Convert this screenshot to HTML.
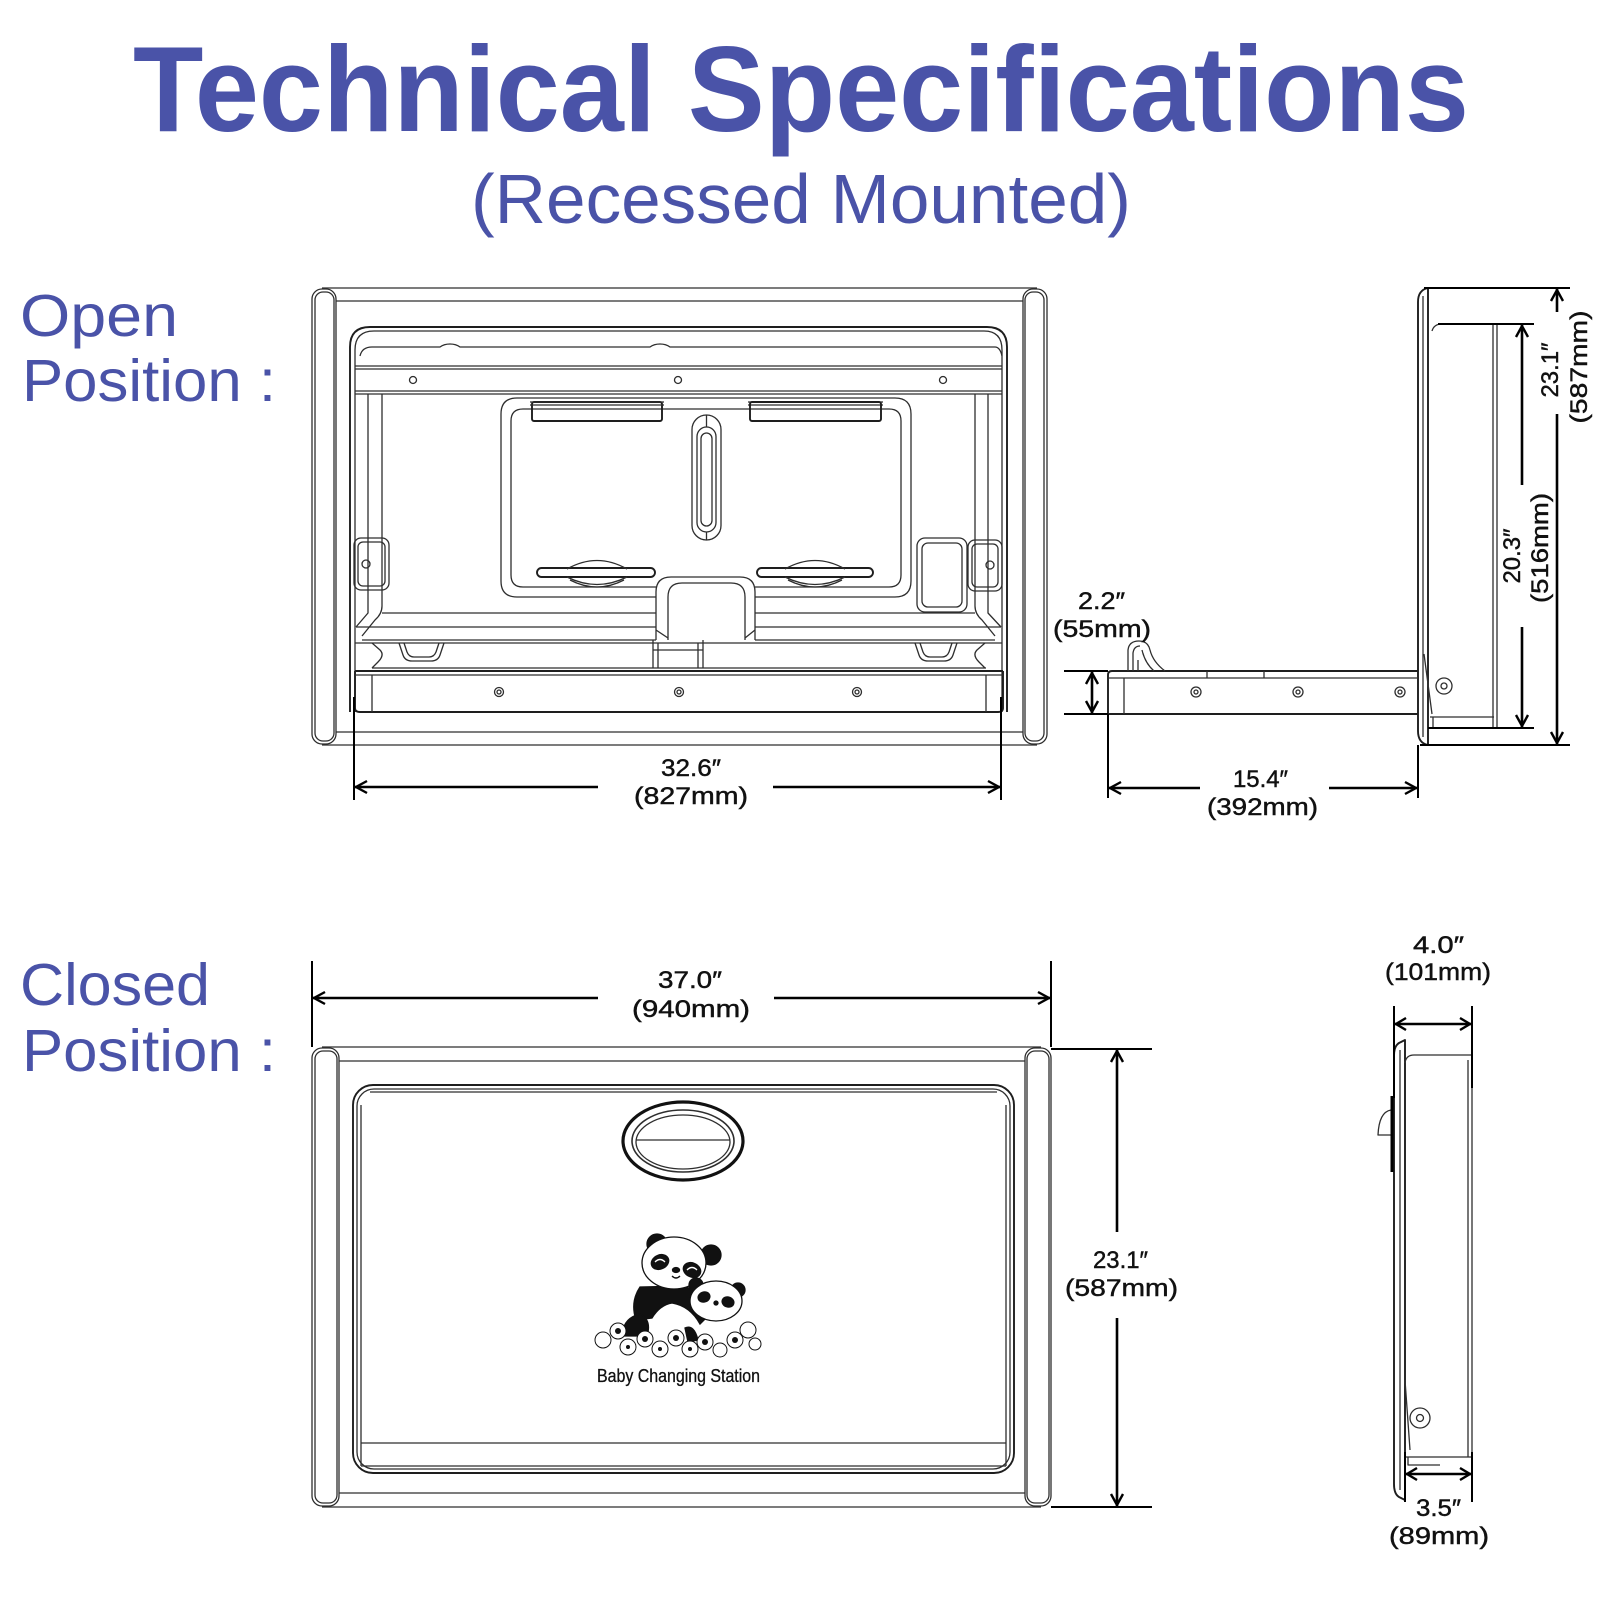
<!DOCTYPE html>
<html><head><meta charset="utf-8"><style>
html,body{margin:0;padding:0;background:#fff;}
svg{display:block;}
.t{font-family:"Liberation Sans",Arial,sans-serif;fill:#4a53a8;}
.d{font-family:"Liberation Sans",Arial,sans-serif;font-size:24px;fill:#111;stroke:#111;stroke-width:0.45;}
.g{fill:none;stroke:#2e2e2e;stroke-width:1.3;stroke-linejoin:round;}
.gb{fill:none;stroke:#1e1e1e;stroke-width:1.9;stroke-linejoin:round;}
.dim{fill:none;stroke:#000;stroke-width:2.6;}
.ext{fill:none;stroke:#000;stroke-width:2;}
.ah{fill:none;stroke:#000;stroke-width:2.4;stroke-linejoin:miter;}
</style></head><body>
<svg width="1600" height="1600" viewBox="0 0 1600 1600" xmlns="http://www.w3.org/2000/svg">
<rect width="1600" height="1600" fill="#fff"/>

<!-- Titles -->
<text class="t" x="133" y="131" font-size="122" font-weight="bold" textLength="1336" lengthAdjust="spacingAndGlyphs">Technical Specifications</text>
<text class="t" x="471" y="223" font-size="70" textLength="660" lengthAdjust="spacingAndGlyphs">(Recessed Mounted)</text>

<text class="t" x="20" y="336" font-size="59" textLength="158" lengthAdjust="spacingAndGlyphs">Open</text>
<text class="t" x="22" y="401" font-size="59" textLength="254" lengthAdjust="spacingAndGlyphs">Position :</text>
<text class="t" x="20" y="1005" font-size="59" textLength="190" lengthAdjust="spacingAndGlyphs">Closed</text>
<text class="t" x="22" y="1071" font-size="59" textLength="254" lengthAdjust="spacingAndGlyphs">Position :</text>

<!-- ================= OPEN FRONT VIEW ================= -->
<g class="g">
  <!-- frame -->
  <rect x="312" y="289" width="24" height="455" rx="10"/>
  <rect x="315" y="292" width="19" height="449" rx="8"/>
  <rect x="1023" y="289" width="24" height="455" rx="10"/>
  <rect x="1025" y="292" width="19" height="449" rx="8"/>
  <path d="M322,288 H1037 M322,745 H1037 M336,301 H1023 M336,732 H1023"/>
  <!-- housing -->
  <path class="gb" d="M350,712 V347 Q350,327 370,327 H987 Q1007,327 1007,347 V712"/>
  <path d="M355,712 V350 Q355,331 374,331 H984 Q1002,331 1002,350 V712"/>
  <path d="M360,356 Q362,347 372,347 H440 Q444,344 450,344 Q456,344 460,347 H650 Q654,344 660,344 Q666,344 670,347 H995 Q1000,347 1002,356"/>
  <path d="M355,366 H1002 M355,369 H1002 M355,391 H1002 M355,394 H1002"/>
  <circle cx="413" cy="380" r="3.5"/><circle cx="678" cy="380" r="3.5"/><circle cx="943" cy="380" r="3.5"/>
  <!-- side rails -->
  <path d="M368,394 V613 L356,627 M382,394 V606 Q382,614 375,620 L362,636"/>
  <path d="M988,394 V613 L1001,627 M975,394 V606 Q975,614 982,620 L995,636"/>
  <!-- lower horizontal lines -->
  <path d="M382,613 H656 M755,613 H975 M356,627 H656 M755,627 H1001 M362,640 H656 M755,640 H995 M355,643 H1002 M372,668 H986"/>
  <!-- shelf -->
  <path class="gb" d="M355,671 H1003 M355,708 Q355,712 360,712 H998 Q1003,712 1003,708 V671 M355,671 V708"/>
  <path d="M355,675 H1003 M372,675 V712 M986,675 V712"/>
  <circle cx="499" cy="692" r="4.5"/><circle cx="499" cy="692" r="2"/>
  <circle cx="679" cy="692" r="4.5"/><circle cx="679" cy="692" r="2"/>
  <circle cx="857" cy="692" r="4.5"/><circle cx="857" cy="692" r="2"/>
  <!-- feet -->
  <path d="M399,643 L403,655 Q405,661 412,661 H431 Q438,661 440,655 L444,643 M404,643 L407,652 Q409,657 414,657 H429 Q434,657 436,652 L439,643"/>
  <path d="M915,643 L919,655 Q921,661 928,661 H944 Q951,661 953,655 L957,643 M920,643 L923,652 Q925,657 930,657 H942 Q947,657 949,652 L952,643"/>
  <path d="M653,640 V668 M703,640 V668 M658,643 V668 M698,643 V668 M653,650 H703"/>
  <path d="M372,643 L380,650 Q385,655 378,662 L372,668 M985,643 L977,650 Q972,655 979,662 L985,668"/>
  <!-- tray -->
  <path d="M656,597 H517 Q501,597 501,581 V414 Q501,398 517,398 H895 Q911,398 911,414 V581 Q911,597 895,597 H755"/>
  <path d="M656,587 H523 Q511,587 511,575 V421 Q511,409 523,409 H889 Q901,409 901,421 V575 Q901,587 889,587 H755"/>
  <rect class="gb" x="532" y="402" width="130" height="19" rx="2"/>
  <path d="M530,402 H664 M530,405 H664 M748,402 H883 M748,405 H883"/>
  <rect class="gb" x="750" y="402" width="131" height="19" rx="2"/>
  <rect x="692" y="415" width="29" height="125" rx="14.5"/>
  <rect x="697" y="427" width="19" height="105" rx="9.5"/>
  <rect x="701" y="433" width="11" height="93" rx="5.5"/>
  <path d="M706.5,415 V427 M706.5,532 V540"/>
  <rect class="gb" x="537" y="568" width="118" height="9" rx="4.5"/>
  <path d="M567,569 Q597,552 627,569 M567,577 Q597,592 627,577 M570,580 Q597,594 624,580"/>
  <rect class="gb" x="757" y="568" width="116" height="9" rx="4.5"/>
  <path d="M785,569 Q815,552 845,569 M785,577 Q815,592 845,577 M788,580 Q815,594 842,580"/>
  <!-- center block -->
  <path d="M656,640 V592 Q656,577 671,577 H740 Q755,577 755,592 V640"/>
  <path d="M668,640 V597 Q668,583 682,583 H731 Q745,583 745,597 V640"/>
  <path d="M656,630 L668,638 M755,630 L745,638"/>
  <!-- brackets -->
  <rect x="354" y="538" width="35" height="52" rx="7"/>
  <rect x="358" y="542" width="27" height="44" rx="5"/>
  <circle cx="366" cy="564" r="4"/>
  <rect x="917" y="538" width="50" height="74" rx="8"/>
  <rect x="922" y="543" width="40" height="64" rx="6"/>
  <rect x="968" y="540" width="34" height="51" rx="7"/>
  <rect x="972" y="544" width="26" height="43" rx="5"/>
  <circle cx="990" cy="565" r="4"/>
</g>

<!-- ================= OPEN SIDE VIEW ================= -->
<g class="g">
  <path class="gb" d="M1428,288 Q1418,290 1418,302 V731 Q1418,743 1428,745 Z"/>
  <path d="M1423,296 V737"/>
  <path d="M1432,331 Q1434,324 1442,324 M1493,324 V728 M1497,324 V728 M1430,717 H1494 M1433,717 V728 M1424,654 L1432,714"/>
  <circle cx="1444" cy="686" r="8"/><circle cx="1444" cy="686" r="3"/>
  <path class="gb" d="M1108,675 Q1108,671 1112,671 H1418 M1108,714 H1418 M1108,675 V714"/>
  <path d="M1108,678 H1418 M1124,678 V714 M1207,671 V678 M1264,671 V678"/>
  <circle cx="1196" cy="692" r="5"/><circle cx="1196" cy="692" r="2"/>
  <circle cx="1298" cy="692" r="5"/><circle cx="1298" cy="692" r="2"/>
  <circle cx="1400" cy="692" r="5"/><circle cx="1400" cy="692" r="2"/>
  <path d="M1128,671 V650 Q1129,641 1139,641 Q1148,641 1150,650 Q1153,662 1165,671 M1133,671 V653 Q1134,646 1140,646 M1142,650 Q1145,663 1154,671 M1138,671 V660"/>
</g>

<!-- ================= CLOSED FRONT VIEW ================= -->
<g class="g">
  <rect x="312" y="1048" width="27" height="458" rx="10"/>
  <rect x="315" y="1051" width="22" height="452" rx="8"/>
  <rect x="1025" y="1048" width="26" height="458" rx="10"/>
  <rect x="1027" y="1051" width="22" height="452" rx="8"/>
  <path d="M322,1047 H1041 M322,1507 H1041 M339,1061 H1025 M339,1493 H1025"/>
  <rect class="gb" x="353" y="1085" width="661" height="388" rx="20"/>
  <rect x="357" y="1089" width="653" height="380" rx="17"/>
  <path d="M370,1092 H997 M361,1105 V1466 M1006,1105 V1466 M361,1443 H1006 M361,1466 H1006"/>
  <ellipse cx="683" cy="1141" rx="60" ry="39" stroke="#111" stroke-width="3.2"/>
  <ellipse cx="683" cy="1141" rx="51" ry="31" stroke-width="1.6"/>
  <ellipse cx="683" cy="1142" rx="47" ry="27"/>
  <path d="M636,1140 H730"/>
</g>

<!-- panda logo -->
<g stroke="#111" stroke-width="1.3">
  <circle cx="657" cy="1244" r="10" fill="#111"/>
  <circle cx="711" cy="1255" r="10" fill="#111"/>
  <path d="M640,1287 Q630,1302 636,1320 L652,1318 Q660,1305 672,1303 Q690,1306 700,1324 L708,1316 Q702,1292 684,1286 Z" fill="#111"/>
  <path d="M622,1336 Q623,1318 640,1314 Q652,1320 647,1336 Z" fill="#111"/>
  <path d="M685,1328 Q694,1324 698,1340 L688,1342 Z" fill="#111"/>
  <ellipse cx="674" cy="1263" rx="32" ry="26" fill="#fff"/>
  <ellipse cx="660" cy="1262" rx="9" ry="7" transform="rotate(-25 660 1262)" fill="#111"/>
  <ellipse cx="692" cy="1270" rx="9" ry="7" transform="rotate(25 692 1270)" fill="#111"/>
  <path d="M655,1262 Q660,1257 665,1262 M687,1270 Q692,1265 697,1270" stroke="#fff" fill="none"/>
  <ellipse cx="676" cy="1270" rx="3.5" ry="2.5" fill="#111"/>
  <path d="M672,1276 Q676,1280 680,1276" fill="none"/>
  <circle cx="696" cy="1285" r="7" fill="#111"/>
  <circle cx="738" cy="1290" r="7" fill="#111"/>
  <ellipse cx="716" cy="1301" rx="26" ry="20" fill="#fff"/>
  <ellipse cx="704" cy="1297" rx="6" ry="5" transform="rotate(-20 704 1297)" fill="#111"/>
  <ellipse cx="728" cy="1302" rx="6" ry="5" transform="rotate(20 728 1302)" fill="#111"/>
  <circle cx="716" cy="1303" r="2" fill="#111"/>
  <g fill="#fff" stroke-width="1">
    <circle cx="603" cy="1340" r="8"/><circle cx="618" cy="1331" r="8"/><circle cx="628" cy="1347" r="8"/>
    <circle cx="645" cy="1339" r="8"/><circle cx="660" cy="1349" r="8"/><circle cx="676" cy="1338" r="8"/>
    <circle cx="690" cy="1349" r="8"/><circle cx="705" cy="1342" r="8"/><circle cx="720" cy="1350" r="7"/>
    <circle cx="735" cy="1340" r="8"/><circle cx="748" cy="1330" r="8"/><circle cx="755" cy="1344" r="6"/>
  </g>
  <g fill="#111" stroke="none">
    <circle cx="618" cy="1331" r="3"/><circle cx="645" cy="1339" r="3"/><circle cx="676" cy="1338" r="3"/>
    <circle cx="705" cy="1342" r="3"/><circle cx="735" cy="1340" r="3"/><circle cx="628" cy="1347" r="2"/>
    <circle cx="690" cy="1349" r="2"/><circle cx="660" cy="1349" r="2"/>
  </g>
</g>
<text x="597" y="1382" font-family="Liberation Sans, Arial, sans-serif" font-size="18" fill="#111" stroke="#111" stroke-width="0.3" textLength="163" lengthAdjust="spacingAndGlyphs">Baby Changing Station</text>

<!-- ================= CLOSED SIDE VIEW ================= -->
<g class="g">
  <path class="gb" d="M1405,1040 L1399,1043 Q1394,1046 1394,1056 V1484 Q1394,1494 1399,1497 L1405,1500 Z"/>
  <path d="M1400,1050 V1490"/>
  <path d="M1405,1063 Q1406,1055 1414,1055 H1472 V1457 M1468,1060 V1457 M1405,1457 H1472 M1408,1457 V1465 H1440 M1405,1380 L1410,1450"/>
  <path d="M1391,1110 Q1379,1112 1378,1135 H1391"/>
  <circle cx="1420" cy="1418" r="10"/><circle cx="1420" cy="1418" r="3.5"/>
</g>
<path d="M1392,1096 V1172" stroke="#000" stroke-width="3"/>

<!-- ================= DIMENSIONS ================= -->
<!-- 32.6 -->
<path class="ext" d="M354,697 V800 M1001,697 V800"/>
<path class="dim" d="M355,787 H598 M773,787 H1000"/>
<path class="ah" d="M367,781 L356,787 L367,793 M988,781 L999,787 L988,793"/>
<text class="d" x="661" y="776" textLength="60" lengthAdjust="spacingAndGlyphs">32.6″</text>
<text class="d" x="634" y="804" textLength="114" lengthAdjust="spacingAndGlyphs">(827mm)</text>

<!-- 15.4 -->
<path class="ext" d="M1108,714 V798 M1418,745 V798"/>
<path class="dim" d="M1109,788 H1200 M1329,788 H1417"/>
<path class="ah" d="M1121,782 L1110,788 L1121,794 M1405,782 L1416,788 L1405,794"/>
<text class="d" x="1233" y="787" textLength="55" lengthAdjust="spacingAndGlyphs">15.4″</text>
<text class="d" x="1207" y="815" textLength="111" lengthAdjust="spacingAndGlyphs">(392mm)</text>

<!-- 2.2 -->
<path class="ext" d="M1064,671 H1108 M1064,714 H1108"/>
<path class="dim" d="M1092,672 V713"/>
<path class="ah" d="M1086,684 L1092,673 L1098,684 M1086,701 L1092,712 L1098,701"/>
<text class="d" x="1078" y="609" textLength="47" lengthAdjust="spacingAndGlyphs">2.2″</text>
<text class="d" x="1053" y="637" textLength="98" lengthAdjust="spacingAndGlyphs">(55mm)</text>

<!-- 23.1 open -->
<path class="ext" d="M1424,288 H1570 M1420,745 H1570"/>
<path class="dim" d="M1557,289 V312 M1557,414 V744"/>
<path class="ah" d="M1551,301 L1557,290 L1563,301 M1551,732 L1557,743 L1563,732"/>
<text class="d" transform="translate(1558,370) rotate(-90)" x="-27.5" y="0" textLength="55" lengthAdjust="spacingAndGlyphs">23.1″</text>
<text class="d" transform="translate(1587,367) rotate(-90)" x="-56.5" y="0" textLength="113" lengthAdjust="spacingAndGlyphs">(587mm)</text>

<!-- 20.3 -->
<path class="ext" d="M1438,324 H1534 M1428,728 H1534"/>
<path class="dim" d="M1522,325 V485 M1522,627 V727"/>
<path class="ah" d="M1516,337 L1522,326 L1528,337 M1516,715 L1522,726 L1528,715"/>
<text class="d" transform="translate(1520,556) rotate(-90)" x="-27.5" y="0" textLength="55" lengthAdjust="spacingAndGlyphs">20.3″</text>
<text class="d" transform="translate(1548,548) rotate(-90)" x="-55" y="0" textLength="110" lengthAdjust="spacingAndGlyphs">(516mm)</text>

<!-- 37.0 -->
<path class="ext" d="M312,961 V1047 M1051,961 V1047"/>
<path class="dim" d="M313,998 H598 M774,998 H1050"/>
<path class="ah" d="M325,992 L314,998 L325,1004 M1038,992 L1049,998 L1038,1004"/>
<text class="d" x="658" y="988" textLength="64" lengthAdjust="spacingAndGlyphs">37.0″</text>
<text class="d" x="632" y="1017" textLength="118" lengthAdjust="spacingAndGlyphs">(940mm)</text>

<!-- 23.1 closed -->
<path class="ext" d="M1051,1049 H1152 M1051,1507 H1152"/>
<path class="dim" d="M1117,1050 V1232 M1117,1318 V1506"/>
<path class="ah" d="M1111,1062 L1117,1051 L1123,1062 M1111,1494 L1117,1505 L1123,1494"/>
<text class="d" x="1093" y="1268" textLength="55" lengthAdjust="spacingAndGlyphs">23.1″</text>
<text class="d" x="1065" y="1296" textLength="113" lengthAdjust="spacingAndGlyphs">(587mm)</text>

<!-- 4.0 -->
<path class="ext" d="M1394,1006 V1098 M1472,1006 V1088"/>
<path class="dim" d="M1395,1024 H1471"/>
<path class="ah" d="M1406,1018 L1396,1024 L1406,1030 M1460,1018 L1470,1024 L1460,1030"/>
<text class="d" x="1413" y="953" textLength="51" lengthAdjust="spacingAndGlyphs">4.0″</text>
<text class="d" x="1385" y="980" textLength="106" lengthAdjust="spacingAndGlyphs">(101mm)</text>

<!-- 3.5 -->
<path class="ext" d="M1405,1452 V1502 M1472,1452 V1502"/>
<path class="dim" d="M1406,1474 H1471"/>
<path class="ah" d="M1417,1468 L1407,1474 L1417,1480 M1460,1468 L1470,1474 L1460,1480"/>
<text class="d" x="1416" y="1516" textLength="45" lengthAdjust="spacingAndGlyphs">3.5″</text>
<text class="d" x="1389" y="1544" textLength="100" lengthAdjust="spacingAndGlyphs">(89mm)</text>
</svg>
</body></html>
